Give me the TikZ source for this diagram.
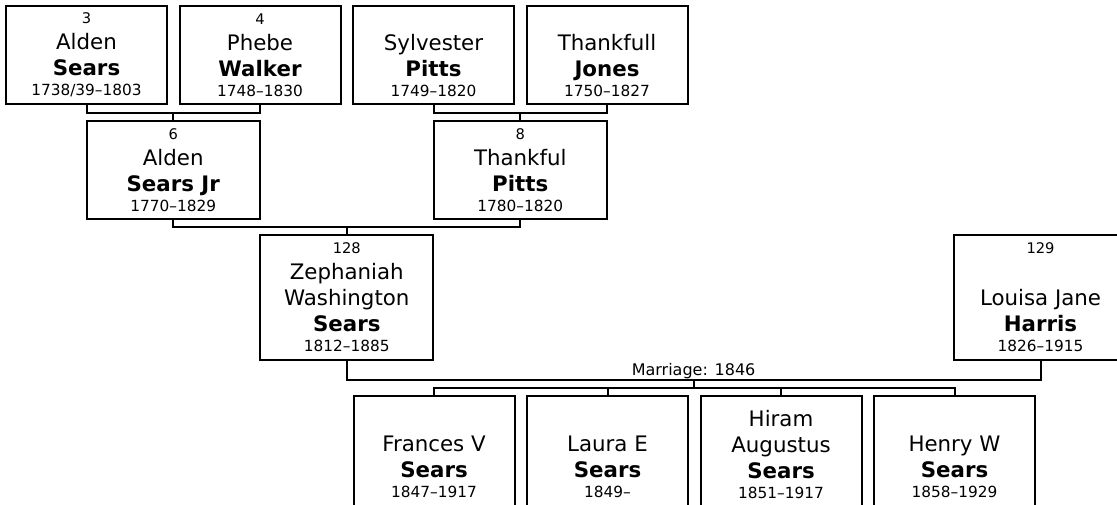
\documentclass[tikz,border=0pt]{standalone}
\usepackage{fontspec}
\setmainfont{DejaVu Sans}
\usetikzlibrary{calc}
\newcommand{\pnum}[1]{{\fontsize{11}{19.5}\selectfont\vphantom{0}#1}}
\newcommand{\pyears}[1]{{\fontsize{11.5}{15}\selectfont #1}}
\tikzset{
  gbox/.style={draw=black,line width=1.5pt,inner sep=0pt,minimum width=120.75pt,
    minimum height=73.5pt,align=center,font=\fontsize{16}{19.5}\selectfont},
  pbox/.style={gbox,minimum width=130.1pt},
  cbox/.style={gbox,minimum width=130.1pt,minimum height=93.75pt},
  kbox/.style={gbox,minimum height=87pt},
  famline/.style={line width=1.5pt,black},
  wedtext/.style={inner sep=1pt,font=\fontsize{12}{15}\selectfont}
}
\begin{document}
\begin{tikzpicture}[x=0.75pt,y=-0.75pt]
  \useasboundingbox (0,0) rectangle (1117,504);
  \clip (0,0) rectangle (1117,504);
  % grandparents
  \node[gbox] (p3) at (86.5,55) {\pnum{3}\\Alden\\\textbf{Sears}\\[-4.5pt]\pyears{1738/39--1803}};
  \node[gbox] (p4) at (260,55) {\pnum{4}\\Phebe\\\textbf{Walker}\\[-4.5pt]\pyears{1748--1830}};
  \node[gbox] (p5) at (433.5,55) {\pnum{}\\Sylvester\\\textbf{Pitts}\\[-4.5pt]\pyears{1749--1820}};
  \node[gbox] (p7) at (607,55) {\pnum{}\\Thankfull\\\textbf{Jones}\\[-4.5pt]\pyears{1750--1827}};
  % parents
  \node[pbox] (p6) at (173.25,170) {\pnum{6}\\Alden\\\textbf{Sears Jr}\\[-4.5pt]\pyears{1770--1829}};
  \node[pbox] (p8) at (520.25,170) {\pnum{8}\\Thankful\\\textbf{Pitts}\\[-4.5pt]\pyears{1780--1820}};
  % couple
  \node[cbox] (p128) at (346.75,297.5) {\pnum{128}\\Zephaniah\\Washington\\\textbf{Sears}\\[-4.5pt]\pyears{1812--1885}};
  \node[cbox] (p129) at (1040.5,297.5) {\pnum{129}\\\\Louisa Jane\\\textbf{Harris}\\[-4.5pt]\pyears{1826--1915}};
  % children
  \node[kbox] (k1) at (434,454) {\vphantom{H}\\Frances V\\\textbf{Sears}\\[-4.5pt]\pyears{1847--1917}};
  \node[kbox] (k2) at (607.5,454) {\vphantom{H}\\Laura E\\\textbf{Sears}\\[-4.5pt]\pyears{1849--}};
  \node[kbox] (k3) at (781,454) {Hiram\\Augustus\\\textbf{Sears}\\[-4.5pt]\pyears{1851--1917}};
  \node[kbox] (k4) at (954.5,454) {\vphantom{H}\\Henry W\\\textbf{Sears}\\[-4.5pt]\pyears{1858--1929}};
  % joins
  \coordinate (j1) at (173.25,113);
  \coordinate (j2) at (520.25,113);
  \coordinate (j3) at (346.75,227);
  \coordinate (wed) at (693.6,380);
  \coordinate (kids) at (693.6,388);
  \draw[famline] (p3.south) |- (j1) -| (p4.south);
  \draw[famline] (j1) -- (p6.north);
  \draw[famline] (p5.south) |- (j2) -| (p7.south);
  \draw[famline] (j2) -- (p8.north);
  \draw[famline] (p6.south) |- (j3) -| (p8.south);
  \draw[famline] (j3) -- (p128.north);
  \draw[famline] (p128.south) |- (wed) -| (p129.south);
  \node[wedtext,above=0pt] (wedlabel) at (wed) {Marriage: 1846};
  \draw[famline] (wed) -- (kids);
  \draw[famline] (k1.north) |- (kids) -| (k4.north);
  \draw[famline] (k2.north) -- (k2.north |- kids);
  \draw[famline] (k3.north) -- (k3.north |- kids);
\end{tikzpicture}
\end{document}
